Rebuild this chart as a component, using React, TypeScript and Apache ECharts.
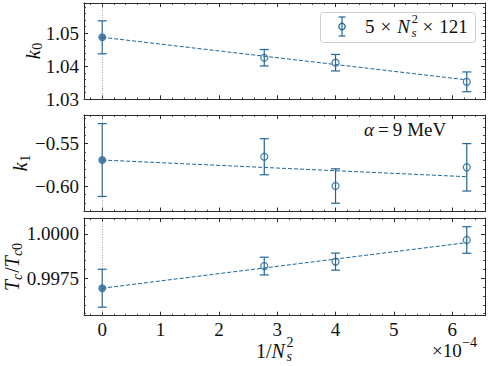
import React, { useEffect, useRef } from 'react';
import * as echarts from 'echarts';

// ---- data (x in units of 1e-4) ----
const invNs2 = [0, 2.778, 4, 6.25];
const fitX = [0, 6.25];

const k0Values = [1.0488, 1.0426, 1.0411, 1.0353];
const k0Errors = [0.005, 0.0025, 0.0025, 0.003];
const k0Fit = [1.0488, 1.0359];

const k1Values = [-0.5693, -0.5654, -0.6, -0.5779];
const k1Errors = [0.043, 0.0213, 0.0203, 0.028];
const k1Fit = [-0.5693, -0.589];

const tcValues = [0.99694, 0.99819, 0.99844, 0.99966];
const tcErrors = [0.00107, 0.0005, 0.00048, 0.00075];
const tcFit = [0.99694, 0.99951];

const xTicks = [0, 1, 2, 3, 4, 5, 6];
const k0Ticks = [1.03, 1.04, 1.05];
const k1Ticks = [-0.6, -0.55];
const tcTicks = [0.9975, 1.0];

const SERIF = '"Liberation Serif", "DejaVu Serif", serif';
const BLUE = '#1f6699';
const INK = '#111111';
const FRAME = '#2b2b2b';

const X_MIN = -0.3125;
const X_MAX = 6.5625;
const X_MINOR = 0.2;

const minus = (s: string) => s.replace('-', '\u2212');

const panels = [
  { top: 3, height: 96.3, min: 1.03, max: 1.0592, ticks: k0Ticks, minor: 0.002,
    fmt: (v: number) => v.toFixed(2), values: k0Values, errors: k0Errors, fit: k0Fit },
  { top: 115, height: 96.5, min: -0.6301, max: -0.5161, ticks: k1Ticks, minor: 0.01,
    fmt: (v: number) => minus(v.toFixed(2)), values: k1Values, errors: k1Errors, fit: k1Fit },
  { top: 218, height: 97.7, min: 0.99539, max: 1.0009, ticks: tcTicks, minor: 0.0005,
    fmt: (v: number) => v.toFixed(4), values: tcValues, errors: tcErrors, fit: tcFit },
];

function stepValues(min: number, max: number, step: number) {
  const out: number[] = [];
  const start = Math.ceil(min / step - 1e-9);
  for (let k = start; k * step <= max + 1e-12; k++) out.push(Math.round(k * step * 1e8) / 1e8);
  return out;
}

function axis(gridIndex: number, position: string, min: number, max: number, major: boolean,
  values: number[], labels: boolean, fmt?: (v: number) => string, margin = 5) {
  return {
    type: 'value', gridIndex, position, min, max, silent: true,
    splitLine: { show: false },
    axisLine: { show: major, onZero: false, lineStyle: { color: FRAME, width: 1 } },
    axisTick: { show: true, inside: true, length: major ? 4 : 2, customValues: values,
      lineStyle: { color: FRAME, width: major ? 1 : 0.8 } },
    axisLabel: labels ? {
      show: true, customValues: values, formatter: fmt, margin,
      color: INK, fontFamily: SERIF, fontSize: 19, lineHeight: 18,
    } : { show: false },
  };
}

// ---- math-like text built from pieces ----
type Piece = { t: string; size?: number; italic?: boolean; dy?: number; gap?: number; adv?: number };
let mctx: CanvasRenderingContext2D | null = null;
function textWidth(t: string, size: number, italic?: boolean) {
  if (!mctx) mctx = document.createElement('canvas').getContext('2d');
  if (!mctx) return t.length * size * 0.5;
  mctx.font = `${italic ? 'italic ' : ''}${size}px ${SERIF}`;
  return mctx.measureText(t).width;
}
function mathText(pieces: Piece[], base: number, x: number, y: number,
  align: 'left' | 'center', rotation = 0) {
  let cursor = 0;
  const items: any[] = [];
  pieces.forEach((p) => {
    const size = p.size ?? base;
    const px = cursor + (p.gap ?? 0);
    const w = textWidth(p.t, size, p.italic);
    items.push({ p, size, px });
    cursor = px + (p.adv ?? w);
  });
  const off = align === 'center' ? -cursor / 2 : 0;
  return {
    type: 'group', x, y, rotation, silent: true,
    children: items.map(({ p, size, px }) => ({
      type: 'text', x: px + off, y: p.dy ?? 0,
      style: {
        text: p.t, fontFamily: SERIF, fontSize: size, fontStyle: p.italic ? 'italic' : 'normal',
        lineHeight: size, fill: INK, align: 'left', verticalAlign: 'middle',
        textAlign: 'left', textVerticalAlign: 'middle',
      },
    })),
  };
}

function errorBarRender(params: any, api: any) {
  const x = api.value(0);
  const y = api.value(1);
  const e = api.value(2);
  const top = api.coord([x, y + e]);
  const bot = api.coord([x, y - e]);
  const hw = 4.5;
  const style = { stroke: BLUE, lineWidth: 1.2 };
  return {
    type: 'group',
    children: [
      { type: 'line', shape: { x1: top[0], y1: top[1], x2: bot[0], y2: bot[1] }, style },
      { type: 'line', shape: { x1: top[0] - hw, y1: top[1], x2: top[0] + hw, y2: top[1] }, style },
      { type: 'line', shape: { x1: bot[0] - hw, y1: bot[1], x2: bot[0] + hw, y2: bot[1] }, style },
    ],
  };
}

export default function App() {
  const ref = useRef<HTMLDivElement>(null);
  useEffect(() => {
    if (!ref.current) return;
    const chart = echarts.init(ref.current, undefined, { renderer: 'svg' });

    const grids: any[] = [];
    const xAxes: any[] = [];
    const yAxes: any[] = [];
    const series: any[] = [];
    const xMinor = stepValues(X_MIN, X_MAX, X_MINOR);

    panels.forEach((pn, i) => {
      grids.push({ left: 84, width: 401, top: pn.top, height: pn.height });
      const last = i === panels.length - 1;
      xAxes.push(axis(i, 'bottom', X_MIN, X_MAX, true, xTicks, last, (v: number) => String(v), 5));
      xAxes.push(axis(i, 'bottom', X_MIN, X_MAX, false, xMinor, false));
      xAxes.push(axis(i, 'top', X_MIN, X_MAX, true, xTicks, false));
      xAxes.push(axis(i, 'top', X_MIN, X_MAX, false, xMinor, false));
      const yMinor = stepValues(pn.min, pn.max, pn.minor);
      yAxes.push(axis(i, 'left', pn.min, pn.max, true, pn.ticks, true, pn.fmt, 5));
      yAxes.push(axis(i, 'left', pn.min, pn.max, false, yMinor, false));
      yAxes.push(axis(i, 'right', pn.min, pn.max, true, pn.ticks, false));
      yAxes.push(axis(i, 'right', pn.min, pn.max, false, yMinor, false));

      const xi = 4 * i;
      series.push({
        type: 'line', xAxisIndex: xi, yAxisIndex: xi, symbol: 'none', silent: true, z: 2,
        data: fitX.map((x, k) => [x, pn.fit[k]]),
        lineStyle: { color: BLUE, width: 1, type: [4, 2] },
        markLine: {
          silent: true, symbol: ['none', 'none'], label: { show: false },
          lineStyle: { color: '#888', width: 0.8, type: [1, 1.6] },
          data: [{ xAxis: 0 }],
        },
      });
      series.push({
        type: 'custom', xAxisIndex: xi, yAxisIndex: xi, silent: true, z: 3,
        renderItem: errorBarRender, encode: { x: 0, y: 1 },
        data: invNs2.map((x, k) => [x, pn.values[k], pn.errors[k]]),
      });
      series.push({
        type: 'scatter', xAxisIndex: xi, yAxisIndex: xi, silent: true, z: 4,
        data: invNs2.map((x, k) => ({
          value: [x, pn.values[k]],
          symbolSize: x === 0 ? 8 : 7,
          itemStyle: x === 0
            ? { color: BLUE, borderColor: BLUE, borderWidth: 0 }
            : { color: 'rgba(0,0,0,0)', borderColor: BLUE, borderWidth: 1.3 },
        })),
      });
    });

    const graphic: any[] = [
      // y-axis titles
      mathText([{ t: 'k', italic: true }, { t: '0', size: 14, dy: 5, gap: 0.5 }], 20, 32.5, 51, 'center', Math.PI / 2),
      mathText([{ t: 'k', italic: true }, { t: '1', size: 14, dy: 5, gap: 0.5 }], 20, 20, 163, 'center', Math.PI / 2),
      mathText([
        { t: 'T', italic: true }, { t: 'c', italic: true, size: 14, dy: 5 },
        { t: '/', gap: 1 }, { t: 'T', italic: true },
        { t: 'c', italic: true, size: 14, dy: 5 }, { t: '0', size: 14, dy: 5 },
      ], 20, 12, 267, 'center', Math.PI / 2),
      // x-axis title
      mathText([
        { t: '1/' }, { t: 'N', italic: true },
        { t: '2', size: 14, dy: -8, gap: 1.5, adv: 0 }, { t: 's', italic: true, size: 14, dy: 6, gap: 0 },
      ], 20, 256, 350.5, 'left'),
      // offset text
      mathText([{ t: '\u00d710' }, { t: '\u22124', size: 14, dy: -8, gap: 0.5 }], 19, 432, 350, 'left'),
      // annotation
      mathText([{ t: '\u03b1', italic: true }, { t: '=', gap: 4 }, { t: '9', gap: 4 }, { t: 'MeV', gap: 5 }], 19, 364, 129, 'left'),
      // legend box
      {
        type: 'rect', silent: true, shape: { x: 320.5, y: 12.5, width: 155, height: 30, r: 3 },
        style: { fill: 'rgba(255,255,255,0.8)', stroke: '#cccccc', lineWidth: 1 },
      },
      { type: 'line', silent: true, shape: { x1: 342, y1: 17, x2: 342, y2: 36 }, style: { stroke: BLUE, lineWidth: 1.2 } },
      { type: 'line', silent: true, shape: { x1: 338.5, y1: 17, x2: 345.5, y2: 17 }, style: { stroke: BLUE, lineWidth: 1.2 } },
      { type: 'line', silent: true, shape: { x1: 338.5, y1: 36, x2: 345.5, y2: 36 }, style: { stroke: BLUE, lineWidth: 1.2 } },
      { type: 'circle', silent: true, shape: { cx: 342, cy: 26.5, r: 3.2 }, style: { fill: 'rgba(0,0,0,0)', stroke: BLUE, lineWidth: 1.3 } },
      mathText([
        { t: '5' }, { t: '\u00d7', gap: 6 }, { t: 'N', italic: true, gap: 6 },
        { t: '2', size: 13, dy: -8, gap: 1.5, adv: 0 }, { t: 's', italic: true, size: 13, dy: 6, gap: 0 },
        { t: '\u00d7', gap: 6 }, { t: '121', gap: 6 },
      ], 19, 365, 26, 'left'),
    ];

    chart.setOption({
      animation: false,
      backgroundColor: '#ffffff',
      grid: grids,
      xAxis: xAxes,
      yAxis: yAxes,
      series,
      graphic,
    });
    return () => chart.dispose();
  }, []);
  return <div ref={ref} style={{ width: 488, height: 366, position: 'absolute', left: 0, top: 0 }} />;
}
